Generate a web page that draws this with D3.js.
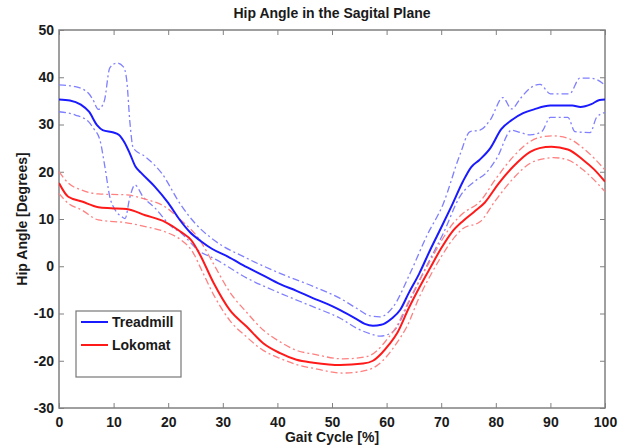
<!DOCTYPE html>
<html>
<head>
<meta charset="utf-8">
<script src="https://cdn.jsdelivr.net/npm/d3@7"></script>
<style>
  body {margin: 0; background: #fff;}
  svg {display: block; font-family: 'Liberation Sans', Arial, sans-serif;}
  .tick text {font-size: 14px; font-weight: bold; fill: #1a1a1a;}
</style>
</head>
<body>
<script>
// gait cycle [%] vs hip angle [deg]
const treadmillMean = [[0,35.3],[2,35.1],[4,34.2],[5.5,32.7],[7,29.8],[8,28.8],[10,28.3],[11,27.8],[12,26.2],[13,23.8],[14,21.1],[15,19.8],[17.5,16.9],[20,13.4],[22,10],[24,7.2],[26,5.3],[28,3.7],[31,2],[34.4,-0.2],[37,-1.7],[40.5,-3.8],[43.5,-5.2],[46.6,-6.8],[49,-7.9],[51.5,-9.3],[54.5,-11.2],[56,-12.2],[57.5,-12.6],[59,-12.4],[61,-11],[62.5,-9.2],[64,-5.8],[66,-1.5],[68,3.5],[70,8.2],[72,13],[74,18],[75.5,21],[77,22.5],[79,25],[81,29],[83,31],[85,32.4],[87,33.2],[90,34],[92,34],[94,34],[95.5,33.7],[97.5,34.3],[99,35.2],[100,35.3]]
const treadmillUpper = [[0,38.4],[3,38],[5.4,36.6],[6.2,35.3],[7.2,33.2],[8.3,35],[9.3,42],[10.6,43],[11.8,42.2],[12.4,39.4],[13,30.3],[13.6,25],[15.8,23.2],[18.8,19.7],[22.3,13],[25,9],[28.3,5.6],[34.4,1.7],[40.5,-1.5],[46.6,-4.3],[51.5,-6.8],[54.5,-8.9],[57,-10.5],[58.8,-10.7],[61.2,-8.6],[64.3,-1.5],[67.3,6.3],[70.4,13.3],[73.4,23.5],[75.3,28.5],[77.1,28.8],[79,31],[81.3,35.7],[82.9,33.3],[84.5,35.5],[86.3,37.7],[88.1,38.5],[90,36.5],[93.5,36.5],[95.4,39.8],[97.3,39.8],[98.5,39.5],[100,38.3]]
const treadmillLower = [[0,32.7],[3,32],[5.4,30.6],[6.3,29.2],[7.5,26.7],[8.4,21.1],[9.3,14.7],[10.3,11.9],[11.5,10.5],[12.1,10.1],[13,14.7],[13.9,17.2],[15.4,14.7],[17.6,12.3],[20.6,8.4],[22.2,7.2],[25.8,3.1],[28.3,1.7],[34.4,-2.5],[40.5,-5.7],[46.6,-8.6],[51.5,-11],[54.5,-13.1],[57,-14.3],[58.8,-14.8],[61.2,-13.8],[64.3,-7.1],[67.3,0],[70.4,7],[73.4,14.7],[76.5,18.3],[78,19.5],[80.2,22.9],[82.9,28.8],[84.5,28.3],[86.3,27.8],[88.4,28.5],[90,31.5],[93.2,31.5],[94.5,28.5],[97.3,28.3],[98.5,31.6],[100,32.5]]

const lokomatMean = [[0,17.6],[1.7,14.7],[4.2,13.7],[7.2,12.5],[9.6,12.3],[12.4,12.1],[15.8,10.8],[19.4,9.4],[22.3,7.3],[24.3,5.4],[25.8,2.5],[28.3,-3.5],[31.3,-9.3],[34.4,-12.8],[37.4,-16.3],[40.5,-18.4],[43.5,-19.8],[46.6,-20.4],[51.5,-20.9],[55.7,-20.6],[57.5,-20],[59.1,-18.4],[60.5,-16.5],[62,-14],[64,-9],[66,-4.5],[68,-0.3],[70,3.8],[72,7.3],[74,9.6],[76,11.5],[78,13.5],[80.5,17.5],[83.2,21.1],[86.3,24.2],[88,25],[90.2,25.3],[93.2,24.7],[96,22.5],[98,20.5],[100,17.9]]
const lokomatUpper = [[0,20],[1.7,17.6],[4.2,16.1],[7.2,15.3],[12.4,15.1],[15.8,14.2],[19.4,12.6],[22.3,9.8],[25.8,5.5],[28.3,0.5],[31.3,-5.5],[34.4,-9.8],[37.4,-13.5],[40.5,-16],[43.5,-17.8],[46.6,-18.6],[52,-19.6],[56.4,-19.1],[58.3,-17.8],[60,-15.6],[61.8,-12.8],[64,-7.5],[66,-3],[68,1.2],[70,5.3],[72,8.8],[74,11.2],[77.1,13.7],[80,18.5],[83.2,23.2],[86.3,26.4],[89,27.5],[90.5,27.6],[93.2,27.1],[96,25],[100,20.4]]
const lokomatLower = [[0,15.4],[1.7,13.3],[4.2,11.9],[7.2,9.8],[12.4,9.2],[15.8,8.4],[19.4,7.3],[22.3,5.6],[24.5,3],[26,-0.5],[28.3,-6],[31.3,-11.5],[34.4,-15],[37.4,-17.8],[40.5,-19.5],[43.5,-20.8],[46.6,-21.6],[52,-22.6],[56.4,-22],[58.5,-20.8],[60,-19.1],[62,-16],[63.7,-12.8],[66,-6.5],[68,-2],[70,2],[72,5.5],[74,8],[77.1,9.4],[80,14],[83.2,18.6],[86.3,21.8],[89,22.8],[90.5,23],[93.2,22.5],[96,20.4],[100,15.8]]

const xTicks = [0, 10, 20, 30, 40, 50, 60, 70, 80, 90, 100]
const yTicks = [-30, -20, -10, 0, 10, 20, 30, 40, 50]
const legendNames = ['Treadmill', 'Lokomat']

const svgWidth = 630
const svgHeight = 446
const margin = {top: 30, right: 25, bottom: 38, left: 59}
const width = svgWidth - margin.left - margin.right
const height = svgHeight - margin.top - margin.bottom

const svg = d3.select('body').append('svg')
  .attr('width', svgWidth).attr('height', svgHeight)
const g = svg.append('g')
  .attr('transform', `translate(${margin.left},${margin.top})`)

const x = d3.scaleLinear().domain([0, 100]).range([0, width])
const y = d3.scaleLinear().domain([-30, 50]).range([height, 0])

// axes, ticks pointing inward on all four sides; plain hyphen for negatives
const frame = '#808080'
const plain = d => String(d)
const styleAxis = sel => {
  sel.select('.domain').remove()
  sel.selectAll('.tick line').attr('stroke', frame)
}
g.append('g').attr('transform', `translate(0,${height})`)
  .call(d3.axisBottom(x).tickValues(xTicks).tickFormat(plain).tickSizeInner(-5).tickPadding(9))
  .call(styleAxis)
g.append('g')
  .call(d3.axisLeft(y).tickValues(yTicks).tickFormat(plain).tickSizeInner(-5).tickPadding(5))
  .call(styleAxis)
g.append('g')
  .call(d3.axisTop(x).tickValues(xTicks).tickSizeInner(-5).tickFormat(''))
  .call(styleAxis)
g.append('g').attr('transform', `translate(${width},0)`)
  .call(d3.axisRight(y).tickValues(yTicks).tickSizeInner(-5).tickFormat(''))
  .call(styleAxis)

g.append('rect').attr('width', width).attr('height', height)
  .attr('fill', 'none').attr('stroke', frame).attr('stroke-width', 1.5)

g.append('clipPath').attr('id', 'clip').append('rect')
  .attr('width', width).attr('height', height)

const line = d3.line().x(d => x(d[0])).y(d => y(d[1])).curve(d3.curveMonotoneX)
const plot = g.append('g').attr('clip-path', 'url(#clip)')

const bands = [
  {data: treadmillUpper, color: '#7f7fff'},
  {data: treadmillLower, color: '#7f7fff'},
  {data: lokomatUpper, color: '#ff8080'},
  {data: lokomatLower, color: '#ff8080'}
]
plot.selectAll('.band').data(bands).enter().append('path')
  .attr('class', 'band')
  .attr('d', d => line(d.data))
  .attr('fill', 'none').attr('stroke', d => d.color)
  .attr('stroke-width', 1.3).attr('stroke-dasharray', '7,3,2,3')

const means = [
  {data: treadmillMean, color: '#1a1aff'},
  {data: lokomatMean, color: '#ff1a1a'}
]
plot.selectAll('.mean').data(means).enter().append('path')
  .attr('class', 'mean')
  .attr('d', d => line(d.data))
  .attr('fill', 'none').attr('stroke', d => d.color).attr('stroke-width', 2)

// legend
const legend = g.append('g').attr('transform', 'translate(17,281)')
legend.append('rect').attr('width', 105).attr('height', 66)
  .attr('fill', '#fff').attr('stroke', '#777').attr('stroke-width', 1.2)
legendNames.forEach((name, i) => {
  const row = legend.append('g').attr('transform', `translate(0,${11 + i * 23})`)
  row.append('line').attr('x1', 5).attr('x2', 32)
    .attr('stroke', means[i].color).attr('stroke-width', 2)
  row.append('text').attr('x', 36).attr('dy', '0.35em')
    .attr('font-size', 14).attr('font-weight', 'bold').attr('fill', '#1a1a1a')
    .text(name)
})

// titles
svg.append('text').attr('x', margin.left + width / 2).attr('y', 18)
  .attr('text-anchor', 'middle').attr('font-size', 14).attr('font-weight', 'bold')
  .attr('fill', '#1a1a1a').text('Hip Angle in the Sagital Plane')
svg.append('text').attr('x', margin.left + width / 2).attr('y', 442)
  .attr('text-anchor', 'middle').attr('font-size', 14).attr('font-weight', 'bold')
  .attr('fill', '#1a1a1a').text('Gait Cycle [%]')
svg.append('text')
  .attr('transform', `translate(27,${margin.top + height / 2}) rotate(-90)`)
  .attr('text-anchor', 'middle').attr('font-size', 14).attr('font-weight', 'bold')
  .attr('fill', '#1a1a1a').text('Hip Angle [Degrees]')
</script>
</body>
</html>
